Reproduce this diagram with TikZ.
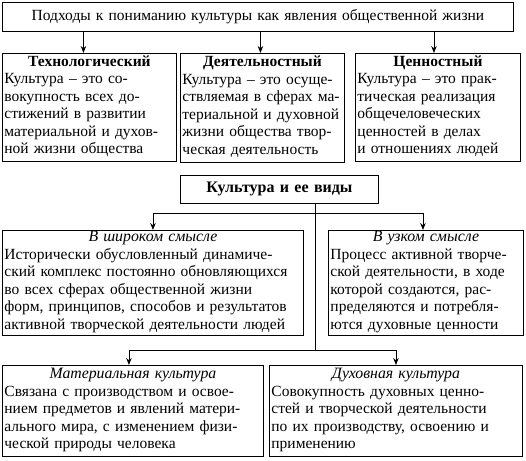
\documentclass[tikz,border=0pt]{standalone}
\usepackage{fontspec}
\setmainfont{Liberation Serif}
\usetikzlibrary{arrows.meta,calc}
\tikzset{
  box/.style={draw, line width=0.9pt, inner xsep=2pt, inner ysep=0pt, anchor=north west,
    font=\fontsize{15.5}{17.5}\selectfont},
  arr/.style={-{Stealth[length=7pt,width=5.5pt]}, line width=0.8pt},
  ln/.style={line width=0.8pt}
}
\newcommand{\hd}[2]{{\centering\fontsize{15.5}{17.5}\selectfont\bfseries #1\par}\noindent\begin{tabular}[t]{@{}l@{}}#2\end{tabular}}
\newcommand{\hi}[2]{{\centering\fontsize{15.8}{17.5}\selectfont\itshape #1\par}\noindent\begin{tabular}[t]{@{}l@{}}#2\end{tabular}}
\begin{document}
\begin{tikzpicture}[x=1pt,y=-1pt]
\useasboundingbox (0,0) rectangle (526,460);
% top
\node[box, text width=507pt, minimum height=29pt, align=center] (top) at (2,2)
  {Подходы к пониманию культуры как явления общественной жизни};
% three approaches
\node[box, text width=170pt, minimum height=108pt] (b1) at (2,53)
  {\hd{Технологический}{Культура – это со-\\вокупность всех до-\\стижений в развитии\\материальной и духов-\\ной жизни общества}};
\node[box, text width=160pt, minimum height=109pt] (b2) at (180,53)
  {\hd{Деятельностный}{Культура – это осуще-\\ствляемая в сферах ма-\\териальной и духовной\\жизни общества твор-\\ческая деятельность}};
\node[box, text width=161pt, minimum height=108pt] (b3) at (355,53)
  {\hd{Ценностный}{Культура – это прак-\\тическая реализация\\общечеловеческих\\ценностей в делах\\и отношениях людей}};
\draw[arr] ([xshift=-6pt]b1.north |- top.south) -- ([xshift=-6pt]b1.north);
\draw[arr] ([xshift=-2pt]b2.north |- top.south) -- ([xshift=-2pt]b2.north);
\draw[arr] ([xshift=-4pt]b3.north |- top.south) -- ([xshift=-4pt]b3.north);
% middle
\node[box, text width=194pt, minimum height=28pt, align=center, font=\fontsize{16}{17.5}\selectfont\bfseries] (kv) at (180,175)
  {Культура и ее виды};
\node[box, text width=297pt, minimum height=105pt] (wide) at (2,230)
  {\hi{В широком смысле}{Исторически обусловленный динамиче-\\ский комплекс постоянно обновляющихся\\во всех сферах общественной жизни\\форм, принципов, способов и результатов\\активной творческой деятельности людей}};
\node[box, text width=191pt, minimum height=105pt] (narrow) at (328,230)
  {\hi{В узком смысле}{Процесс активной творче-\\ской деятельности, в ходе\\которой создаются, рас-\\пределяются и потребля-\\ются духовные ценности}};
\coordinate (j1) at (315,213);
\coordinate (j2) at (315,350);
\draw[ln] (kv.south -| j1) -- (j2);
\draw[arr] (j1) -| (wide.north);
\draw[arr] (j1) -| ([xshift=-3pt]narrow.north);
% bottom
\node[box, text width=257pt, minimum height=91pt] (mat) at (2,365)
  {\hi{Материальная культура}{Связана с производством и освое-\\нием предметов и явлений матери-\\ального мира, с изменением физи-\\ческой природы человека}};
\node[box, text width=249pt, minimum height=91pt] (duh) at (269,365)
  {\hi{Духовная культура}{Совокупность духовных ценно-\\стей и творческой деятельности\\по их производству, освоению и\\применению}};
\draw[arr] (j2) -| ([xshift=-4pt]mat.north);
\draw[arr] (j2) -| (duh.north);
\end{tikzpicture}
\end{document}
